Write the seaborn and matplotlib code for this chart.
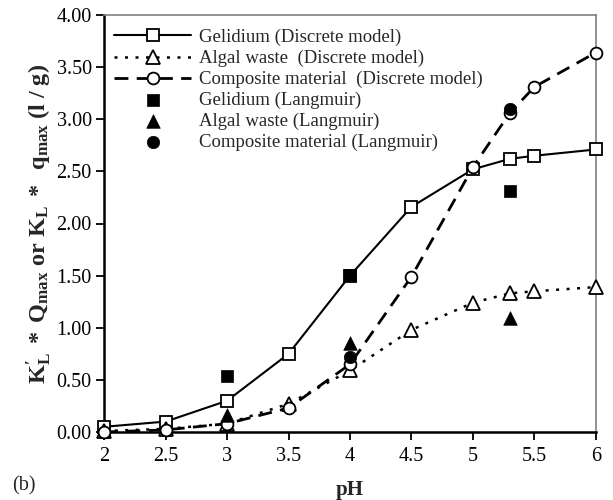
import matplotlib
matplotlib.use("Agg")
import matplotlib.pyplot as plt
import seaborn as sns
import pandas as pd

# pH grid of the discrete-model series
ph_model = [2, 2.5, 3, 3.5, 4, 4.5, 5, 5.3, 5.5, 6]
gelidium_model = [0.05, 0.10, 0.30, 0.75, 1.50, 2.16, 2.52, 2.62, 2.65, 2.71]
algal_model = [0.01, 0.03, 0.08, 0.27, 0.59, 0.98, 1.24, 1.33, 1.35, 1.39]
composite_model = [0.00, 0.02, 0.08, 0.23, 0.65, 1.49, 2.54, 3.06, 3.31, 3.64]

# Langmuir estimates
ph_gel_lang = [3, 4, 5.3]
gelidium_lang = [0.54, 1.51, 2.31]
ph_alg_lang = [3, 4, 5.3]
algal_lang = [0.16, 0.85, 1.09]
ph_comp_lang = [4, 5.3]
composite_lang = [0.72, 3.10]

x_ticks = [2, 2.5, 3, 3.5, 4, 4.5, 5, 5.5, 6]
x_tick_labels = ["2", "2.5", "3", "3.5", "4", "4.5", "5", "5.5", "6"]
y_ticks = [0, 0.5, 1.0, 1.5, 2.0, 2.5, 3.0, 3.5, 4.0]

sns.set_theme(style="white")
plt.rcParams["font.family"] = ["Liberation Serif", "DejaVu Serif"]
plt.rcParams["mathtext.fontset"] = "custom"
plt.rcParams["mathtext.rm"] = "Liberation Serif"
plt.rcParams["mathtext.bf"] = "Liberation Serif:bold"
plt.rcParams["mathtext.it"] = "Liberation Serif:italic"

fig = plt.figure(figsize=(6.13, 5.00), dpi=100)
ax = fig.add_axes([0.170, 0.136, 0.802, 0.834])

model_df = pd.DataFrame({
    "pH": ph_model * 3,
    "value": gelidium_model + algal_model + composite_model,
    "series": (["Gelidium (Discrete model)"] * len(ph_model)
               + ["Algal waste  (Discrete model)"] * len(ph_model)
               + ["Composite material  (Discrete model)"] * len(ph_model)),
})

line_styles = {
    "Gelidium (Discrete model)": dict(marker="s", ms=8.5, lw=1.5, dashes=None),
    "Algal waste  (Discrete model)": dict(marker="^", ms=9.5, lw=1.8, dashes=(1.2, 3.0)),
    "Composite material  (Discrete model)": dict(marker="o", ms=8.5, lw=2.0, dashes=(5, 3)),
}
for name, st in line_styles.items():
    sub = model_df[model_df["series"] == name]
    sns.lineplot(data=sub, x="pH", y="value", color="black", lw=st["lw"],
                 marker=st["marker"], markersize=st["ms"],
                 markerfacecolor="white", markeredgecolor="black", markeredgewidth=1.3,
                 ax=ax, legend=False, clip_on=False, zorder=4)
    ln = ax.lines[-1]
    if st["dashes"] is not None:
        ln.set_dashes(st["dashes"])
    ln.set_label(name)

lang_sets = [
    ("Gelidium (Langmuir)", ph_gel_lang, gelidium_lang, "s", 80),
    ("Algal waste (Langmuir)", ph_alg_lang, algal_lang, "^", 95),
    ("Composite material (Langmuir)", ph_comp_lang, composite_lang, "o", 80),
]
for name, xs, ys, mk, sz in lang_sets:
    sns.scatterplot(x=xs, y=ys, marker=mk, s=sz, color="black", edgecolor="black",
                    linewidth=0.5, ax=ax, zorder=5, legend=False)
    ax.collections[-1].set_label(name)

ax.set_xlim(2, 6)
ax.set_ylim(0, 4)
ax.set_xticks(x_ticks)
ax.set_xticklabels(x_tick_labels)
ax.set_yticks(y_ticks)
ax.set_yticklabels([f"{v:.2f}" for v in y_ticks])
ax.tick_params(axis="both", which="major", direction="out", length=6, width=1.3,
               labelsize=14.5, colors="black", bottom=True, left=True)
ax.tick_params(axis="x", pad=5)
ax.tick_params(axis="y", pad=3)

for side in ("left", "bottom"):
    ax.spines[side].set_color("black")
    ax.spines[side].set_linewidth(1.8)
for side in ("top", "right"):
    ax.spines[side].set_color("#808080")
    ax.spines[side].set_linewidth(1.2)

ax.set_xlabel("pH", fontsize=15, fontweight="bold", labelpad=10)
ax.set_ylabel(r"$\mathbf{K}_{\mathbf{L}}^{\mathbf{\prime}}\mathbf{\ *\ Q_{max}\ or\ K_L\ *\ \ q_{max}\ (l\ /\ g)}$",
              fontsize=17.5, labelpad=2)

handles, labels = ax.get_legend_handles_labels()
ax.legend(handles, labels, loc="upper left", frameon=False, fontsize=13.5,
          handlelength=4.1, handletextpad=0.4, labelspacing=0.2,
          borderaxespad=0.0, bbox_to_anchor=(0.005, 0.985))

fig.text(12 / 613, 1 - 486 / 500, "(b)", fontsize=14.5, va="center", ha="left")

fig.savefig("out.png", dpi=100)
